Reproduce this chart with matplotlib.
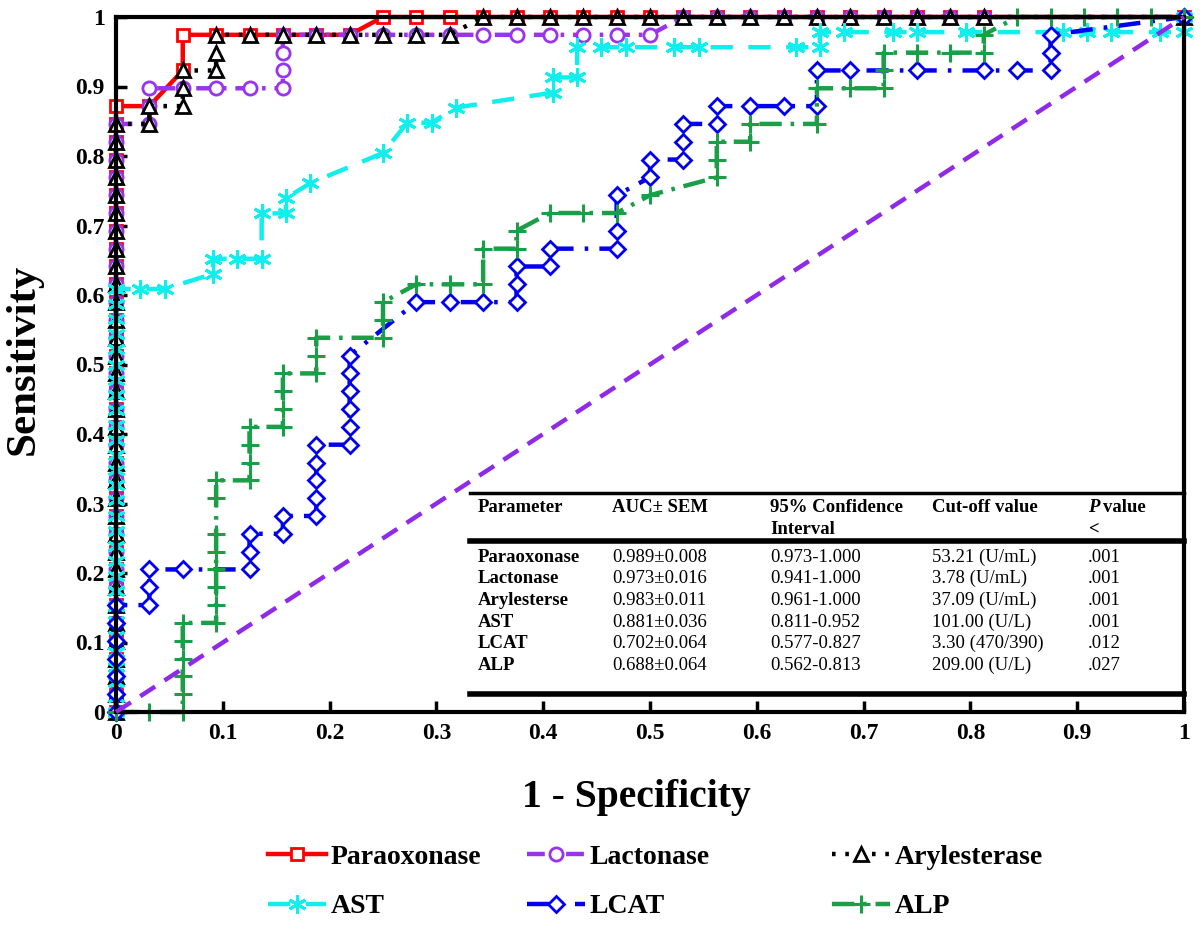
import matplotlib
matplotlib.use("Agg")
import matplotlib.pyplot as plt
from matplotlib.lines import Line2D

plt.rcParams["font.family"] = ["Liberation Serif", "DejaVu Serif"]

# group sizes (controls / patients) used to turn counts into rates
N_NEG = 32
N_POS = 39
AST_NEG = 44
AST_POS = 46

# ROC steps: false positives / true positives (counts)
pon_fp = [0, 0, 0, 0, 0, 0, 0, 0, 0, 0, 0, 0, 0, 0, 0, 0, 0, 0, 0, 0, 0, 0, 0, 0, 0, 0, 0, 0, 0, 0, 0, 0, 0, 0, 0,
          1, 2, 2, 3, 4, 5, 6, 7, 8, 9, 10, 11, 12, 13, 14, 15, 16, 17, 18, 19, 20, 21, 22, 23, 24, 25, 26, 32]
pon_tp = [0, 1, 2, 3, 4, 5, 6, 7, 8, 9, 10, 11, 12, 13, 14, 15, 16, 17, 18, 19, 20, 21, 22, 23, 24, 25, 26, 27, 28,
          29, 30, 31, 32, 33, 34,
          34, 36, 38, 38, 38, 38, 38, 38, 39, 39, 39, 39, 39, 39, 39, 39, 39, 39, 39, 39, 39, 39, 39, 39, 39, 39, 39, 39]

lac_fp = [0, 0, 0, 0, 0, 0, 0, 0, 0, 0, 0, 0, 0, 0, 0, 0, 0, 0, 0, 0, 0, 0, 0, 0, 0, 0, 0, 0, 0, 0, 0, 0, 0, 0,
          1, 1, 1, 2, 3, 4, 5, 5, 5, 5, 6, 7, 8, 9, 10, 11, 12, 13, 14, 15, 16,
          17, 18, 19, 20, 21, 22, 23, 24, 25, 26, 32]
lac_tp = [0, 1, 2, 3, 4, 5, 6, 7, 8, 9, 10, 11, 12, 13, 14, 15, 16, 17, 18, 19, 20, 21, 22, 23, 24, 25, 26, 27, 28,
          29, 30, 31, 32, 33,
          33, 34, 35, 35, 35, 35, 35, 36, 37, 38, 38, 38, 38, 38, 38, 38, 38, 38, 38, 38, 38,
          39, 39, 39, 39, 39, 39, 39, 39, 39, 39, 39]

ary_fp = [0, 0, 0, 0, 0, 0, 0, 0, 0, 0, 0, 0, 0, 0, 0, 0, 0, 0, 0, 0, 0, 0, 0, 0, 0, 0, 0, 0, 0, 0, 0, 0, 0, 0,
          1, 1, 2, 2, 2, 3, 3, 3, 4, 5, 6, 7, 8, 9, 10,
          11, 12, 13, 14, 15, 16, 17, 18, 19, 20, 21, 22, 23, 24, 25, 26, 32]
ary_tp = [0, 1, 2, 3, 4, 5, 6, 7, 8, 9, 10, 11, 12, 13, 14, 15, 16, 17, 18, 19, 20, 21, 22, 23, 24, 25, 26, 27, 28,
          29, 30, 31, 32, 33,
          33, 34, 34, 35, 36, 36, 37, 38, 38, 38, 38, 38, 38, 38, 38,
          39, 39, 39, 39, 39, 39, 39, 39, 39, 39, 39, 39, 39, 39, 39, 39, 39]

ast_fp = [0, 0, 0, 0, 0, 0, 0, 0, 0, 0, 0, 0, 0, 0, 0, 0, 0, 0, 0, 0, 0, 0, 0, 0, 0, 0, 0, 0, 0,
          1, 2, 4, 4, 5, 6, 6, 7, 7, 8, 11, 12, 13, 14, 18, 18, 19, 19, 20, 21, 23, 24, 28, 29, 29, 30,
          32, 33, 35, 39, 40, 41, 43, 44, 44]
ast_tp = [0, 1, 2, 3, 4, 5, 6, 7, 8, 9, 10, 11, 12, 13, 14, 15, 16, 17, 18, 19, 20, 21, 22, 23, 24, 25, 26, 27, 28,
          28, 28, 29, 30, 30, 30, 33, 33, 34, 35, 37, 39, 39, 40, 41, 42, 42, 44, 44, 44, 44, 44, 44, 44, 45, 45,
          45, 45, 45, 45, 45, 45, 45, 45, 46]

lcat_fp = [0, 0, 0, 0, 0, 0, 0,
           1, 1, 1, 2, 4, 4, 4, 5, 5, 6, 6, 6, 6, 6, 7, 7, 7, 7, 7, 7, 9, 10, 11, 12, 12, 12, 13, 13, 15,
           15, 15, 16, 16, 17, 17, 17, 18, 18, 19, 20, 21, 21, 22, 24, 26, 27, 28, 28, 28, 32]
lcat_tp = [0, 1, 2, 3, 4, 5, 6,
           6, 7, 8, 8, 8, 9, 10, 10, 11, 11, 12, 13, 14, 15, 15, 16, 17, 18, 19, 20, 23, 23, 23, 23, 24, 25, 25, 26, 26,
           27, 29, 30, 31, 31, 32, 33, 33, 34, 34, 34, 34, 36, 36, 36, 36, 36, 36, 37, 38, 39]

alp_fp = [0, 1, 2, 2, 2, 2, 2, 2, 3, 3, 3, 3, 3, 3, 3, 3, 4, 4, 4, 4, 5, 5, 5, 5, 6, 6, 6, 8, 8, 8, 9, 10, 11, 11,
          12, 12, 13, 14, 15, 16, 18, 18, 18, 19, 19, 21, 21, 22, 23, 23, 23, 24, 25, 26, 26, 27, 28, 29, 30, 31, 32]
alp_tp = [0, 0, 0, 1, 2, 3, 4, 5, 5, 6, 7, 8, 9, 10, 12, 13, 13, 14, 15, 16, 16, 17, 18, 19, 19, 20, 21, 21, 22, 23,
          24, 24, 24, 26, 26, 27, 28, 28, 28, 29, 30, 31, 32, 32, 33, 33, 35, 35, 35, 36, 37, 37, 37, 37, 38, 39, 39,
          39, 39, 39, 39]

x_ticks = [0, 0.1, 0.2, 0.3, 0.4, 0.5, 0.6, 0.7, 0.8, 0.9, 1]
tick_labels = ["0", "0.1", "0.2", "0.3", "0.4", "0.5", "0.6", "0.7", "0.8", "0.9", "1"]

table_head = ["Parameter", "AUC\u00b1 SEM", "95% Confidence", "Cut-off value"]
table_rows = [
    ["Paraoxonase", "0.989\u00b10.008", "0.973-1.000", "53.21 (U/mL)", ".001"],
    ["Lactonase", "0.973\u00b10.016", "0.941-1.000", "3.78 (U/mL)", ".001"],
    ["Arylesterse", "0.983\u00b10.011", "0.961-1.000", "37.09 (U/mL)", ".001"],
    ["AST", "0.881\u00b10.036", "0.811-0.952", "101.00 (U/L)", ".001"],
    ["LCAT", "0.702\u00b10.064", "0.577-0.827", "3.30 (470/390)", ".012"],
    ["ALP", "0.688\u00b10.064", "0.562-0.813", "209.00 (U/L)", ".027"],
]

W, H = 1200, 927
fig = plt.figure(figsize=(12, 9.27), dpi=100)
ax = fig.add_axes([116 / W, 1 - 712 / H, (1184 - 116) / W, (712 - 17) / H])


def rates(fp, tp, nn, npos):
    return [v / nn for v in fp], [v / npos for v in tp]


series = [
    ("Paraoxonase", pon_fp, pon_tp, N_NEG, N_POS, "#ff0000", "-", "s", 9),
    ("Lactonase", lac_fp, lac_tp, N_NEG, N_POS, "#9933ee", (0, (4, 2, 0.8, 2)), "o", 9.5),
    ("Arylesterase", ary_fp, ary_tp, N_NEG, N_POS, "black", (0, (0.8, 2.2)), "^", 10),
    ("AST", ast_fp, ast_tp, AST_NEG, AST_POS, "#11eeee", (0, (5, 3.5)), (6, 2, 0), 13),
    ("LCAT", lcat_fp, lcat_tp, N_NEG, N_POS, "#0000ee", (0, (5, 2.5, 0.8, 2.5)), "D", 8),
    ("ALP", alp_fp, alp_tp, N_NEG, N_POS, "#1a9e48", (0, (5, 2, 0.8, 2)), "+", 13),
]

handles = []
for name, fp, tp, nn, npos, col, ls, mk, ms in series:
    x, y = rates(fp, tp, nn, npos)
    filled = mk in ("s", "o", "^", "D")
    h, = ax.plot(x, y, color=col, linestyle=ls, linewidth=3.2, marker=mk, markersize=ms,
                 markerfacecolor="white" if filled else col, markeredgecolor=col,
                 markeredgewidth=2 if filled else 2.2, clip_on=False, label=name)
    handles.append(h)

# chance line
ax.plot([0, 1], [0, 1], color="#8f2be8", linestyle=(0, (4, 2.5)), linewidth=3.2, clip_on=False, zorder=5)

ax.set_xlim(0, 1)
ax.set_ylim(0, 1)
ax.set_xticks(x_ticks)
ax.set_yticks(x_ticks)
ax.set_xticklabels(tick_labels, fontsize=17, fontweight="bold")
ax.set_yticklabels(tick_labels, fontsize=17, fontweight="bold")
ax.tick_params(direction="in", length=8, width=2.5, pad=8)
for sp in ax.spines.values():
    sp.set_linewidth(3)
ax.set_xlabel("1 - Specificity", fontsize=28.5, fontweight="bold")
ax.xaxis.set_label_coords((636 - 116) / 1068, -0.097)
ax.set_ylabel("Sensitivity", fontsize=31, fontweight="bold")
ax.yaxis.set_label_coords(-0.069, 0.508)


# summary table inside the plot area
def fx(px):
    return px / W


def fy(py):
    return 1 - py / H


col_x = [478, 612, 770, 932, 1088]
tsize = 13.5
fig.add_artist(Line2D([fx(470), fx(1184)], [fy(493), fy(493)], color="black", lw=2.5))
fig.add_artist(Line2D([fx(470), fx(1184)], [fy(541), fy(541)], color="black", lw=4))
fig.add_artist(Line2D([fx(470), fx(1184)], [fy(694), fy(694)], color="black", lw=4))
for cx, t1 in zip(col_x, table_head):
    fig.text(fx(cx), fy(507), t1, fontsize=tsize, fontweight="bold", va="center", ha="left")
fig.text(fx(770), fy(529), "Interval", fontsize=tsize, fontweight="bold", va="center", ha="left")
fig.text(fx(1088), fy(507), "P", fontsize=tsize, fontstyle="italic", fontweight="bold", va="center", ha="left")
fig.text(fx(1103), fy(507), "value", fontsize=tsize, fontweight="bold", va="center", ha="left")
fig.text(fx(1088), fy(529), "<", fontsize=tsize, fontweight="bold", va="center", ha="left")
for i, row in enumerate(table_rows):
    yy = fy(557 + i * 21.7)
    for j, (cx, val) in enumerate(zip(col_x, row)):
        fig.text(fx(cx), yy, val, fontsize=tsize,
                 fontweight="bold" if j == 0 else "normal", va="center", ha="left")

# legend: three columns, two rows
col_left = [268, 527, 832]
for k, left in enumerate(col_left):
    hs = [handles[k], handles[k + 3]]
    fig.legend(handles=hs, labels=[h.get_label() for h in hs], loc="center left",
               bbox_to_anchor=(fx(left), fy(882)), frameon=False, ncol=1,
               prop={"size": 20, "weight": "bold"}, handlelength=2.1, handletextpad=0.15,
               labelspacing=0.85, borderpad=0, borderaxespad=0, numpoints=1)

fig.savefig("out.png", dpi=100)
